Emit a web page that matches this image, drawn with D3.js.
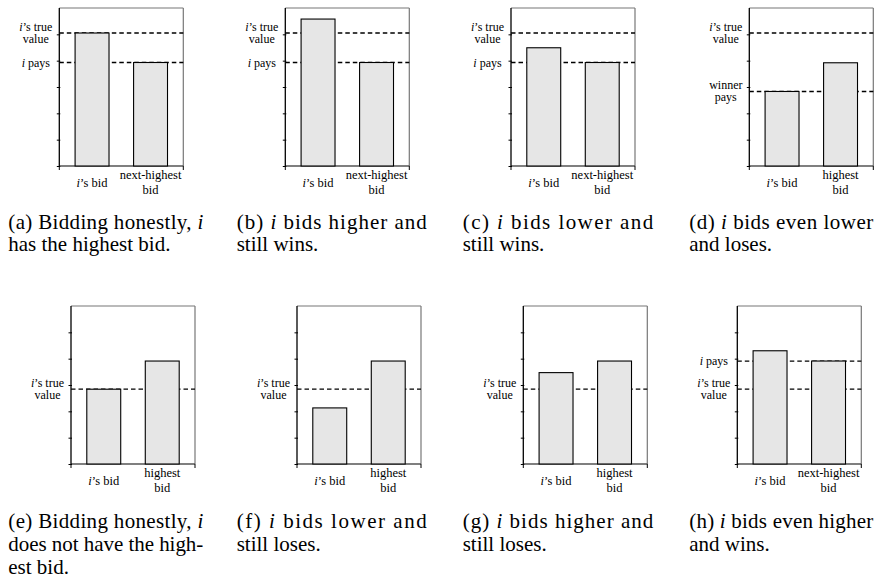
<!DOCTYPE html>
<html>
<head>
<meta charset="utf-8">
<script src="https://cdn.jsdelivr.net/npm/d3@7"></script>
<style>
  body { margin: 0; background: #fff; }
  svg { display: block; }
  svg text { font-family: "Liberation Serif", "DejaVu Serif", serif; fill: #000; }
</style>
</head>
<body>
<svg id="chart" width="883" height="583"></svg>
<script>
// data, one entry per sub-figure (a) .. (h)
const panelIds = ["a", "b", "c", "d", "e", "f", "g", "h"];
const barCategories = [
    ["$i$’s bid", "next-highest|bid"],
    ["$i$’s bid", "next-highest|bid"],
    ["$i$’s bid", "next-highest|bid"],
    ["$i$’s bid", "highest|bid"],
    ["$i$’s bid", "highest|bid"],
    ["$i$’s bid", "highest|bid"],
    ["$i$’s bid", "highest|bid"],
    ["$i$’s bid", "next-highest|bid"]
];
const bidValues = [
    [5.05, 3.93], [5.58, 3.93], [4.49, 3.93], [2.83, 3.92],
    [2.84, 3.91], [2.13, 3.91], [3.47, 3.91], [4.30, 3.91]
];
const refValues = [
    [5.05, 3.93], [5.05, 3.93], [5.05, 3.93], [5.05, 2.83],
    [2.84], [2.84], [2.84], [3.91, 2.84]
];
const refLabels = [
    ["$i$’s true|value", "$i$ pays"],
    ["$i$’s true|value", "$i$ pays"],
    ["$i$’s true|value", "$i$ pays"],
    ["$i$’s true|value", "winner|pays"],
    ["$i$’s true|value"],
    ["$i$’s true|value"],
    ["$i$’s true|value"],
    ["$i$ pays", "$i$’s true|value"]
];
const yTicks = [0, 1, 2, 3, 4, 5];
const yDomain = [0, 6];
const captions = [
    ["(a) Bidding honestly, $i$", "has the highest bid."],
    ["(b) $i$ bids higher and", "still wins."],
    ["(c) $i$ bids lower and", "still wins."],
    ["(d) $i$ bids even lower", "and loses."],
    ["(e) Bidding honestly, $i$", "does not have the high-", "est bid."],
    ["(f) $i$ bids lower and", "still loses."],
    ["(g) $i$ bids higher and", "still loses."],
    ["(h) $i$ bids even higher", "and wins."]
];

// layout
const boxLeft = [59.3, 285.3, 511, 749.3, 71, 297, 523.3, 737.3];
const rowTop = [8, 306], rowBottom = [166, 464];
const boxW = 124;
const capX = [8.3, 236.7, 462.7, 689.3];
const capY = [228.5, 528.3];
const capLine = 22.7;
const capWidth = [195, 190, 190.6, 184];
const serif = "'Liberation Serif', 'DejaVu Serif', serif";

const svg = d3.select("#chart");

// writes a string with $..$ parts in italic
function rich(sel, str) {
    str.split(/(\$[^$]+\$)/).filter(s => s.length).forEach(s => {
        let t = sel.append("tspan");
        if (s[0] == "$") t.style("font-style", "italic").text(s.slice(1, -1));
        else t.text(s);
    });
}

panelIds.forEach((id, p) => {
    let row = p < 4 ? 0 : 1;
    let left = boxLeft[p], right = left + boxW;
    let top = rowTop[row], bottom = rowBottom[row];

    let y = d3.scaleLinear().domain(yDomain).range([bottom, top]);
    let x = d3.scaleBand().domain(barCategories[p]).range([left, right])
        .paddingInner(0.42).paddingOuter(0.27);

    let g = svg.append("g").attr("class", "panel-" + id);

    // frame
    g.append("line").attr("x1", left).attr("x2", right).attr("y1", top).attr("y2", top)
        .style("stroke", "#777").style("stroke-width", 1.2);
    g.append("line").attr("x1", right).attr("x2", right).attr("y1", top).attr("y2", bottom)
        .style("stroke", "#777").style("stroke-width", 1.2);
    g.append("line").attr("x1", left).attr("x2", right).attr("y1", bottom).attr("y2", bottom)
        .style("stroke", "#555").style("stroke-width", 1.3);
    // x axis end ticks
    [left, right].forEach(xx => {
        g.append("line").attr("x1", xx).attr("x2", xx).attr("y1", bottom).attr("y2", bottom + 4)
            .style("stroke", "#000").style("stroke-width", 1);
    });

    // y ticks
    let yAxis = g.append("g").attr("transform", "translate(" + (left + 1) + ",0)")
        .call(d3.axisLeft(y).tickValues(yTicks).tickSizeInner(3.5).tickSizeOuter(0).tickFormat(""));
    yAxis.select(".domain").remove();
    yAxis.selectAll("line").style("stroke", "#000").style("stroke-width", 1);

    // dashed reference lines (under the bars)
    refValues[p].forEach((v, k) => {
        let yy = y(v);
        g.append("line").attr("x1", left).attr("x2", right).attr("y1", yy).attr("y2", yy)
            .style("stroke", "#000").style("stroke-width", 1.3).style("stroke-dasharray", "4.5,3");
        let lines = refLabels[p][k].split("|");
        lines.forEach((ln, j) => {
            let by = lines.length == 1 ? yy + 4 : (j == 0 ? yy - 2.5 : yy + 10);
            let t = g.append("text").attr("x", left - 23.5).attr("y", by)
                .attr("text-anchor", "middle")
                .style("font-family", serif).style("font-size", "12px");
            rich(t, ln);
        });
    });

    // bars
    g.selectAll("rect.bar").data(bidValues[p]).enter().append("rect")
        .attr("class", "bar")
        .attr("x", (d, i) => x(barCategories[p][i]))
        .attr("width", x.bandwidth())
        .attr("y", d => y(d))
        .attr("height", d => bottom - y(d))
        .style("fill", "#e6e6e6").style("stroke", "#000").style("stroke-width", 1.1);

    // left axis line
    g.append("line").attr("x1", left).attr("x2", left).attr("y1", top).attr("y2", bottom)
        .style("stroke", "#000").style("stroke-width", 1.3);

    // category labels
    barCategories[p].forEach(c => {
        let lines = c.split("|");
        let cx = x(c) + x.bandwidth() / 2;
        lines.forEach((ln, j) => {
            let by = lines.length == 1 ? bottom + 21 : bottom + 13 + j * 15;
            let t = g.append("text").attr("x", cx).attr("y", by)
                .attr("text-anchor", "middle")
                .style("font-family", serif).style("font-size", "12.5px");
            rich(t, ln);
        });
    });

    // caption
    let col = p % 4;
    captions[p].forEach((ln, j) => {
        let t = svg.append("text").attr("x", capX[col]).attr("y", capY[row] + j * capLine)
            .style("font-family", serif).style("font-size", "21px");
        if (j < captions[p].length - 1)
            t.attr("textLength", capWidth[col]).attr("lengthAdjust", "spacing");
        rich(t, ln);
    });
});
</script>
</body>
</html>
